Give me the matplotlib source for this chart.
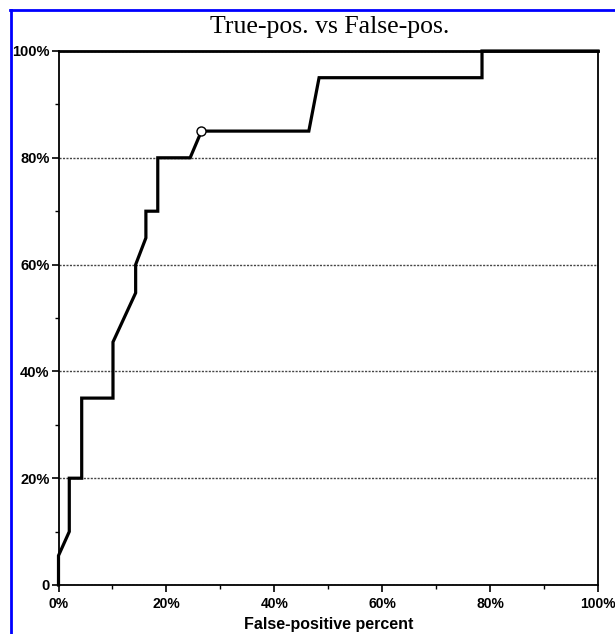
import matplotlib
matplotlib.use("Agg")
import matplotlib.pyplot as plt
from matplotlib.lines import Line2D

# Data (percent)
false_pos = [0, 0, 2, 2, 4.3, 4.3, 10.1, 10.1, 14.3, 14.3, 16.2, 16.2, 18.4, 18.4,
             24.4, 26.5, 46.4, 48.3, 78.5, 78.5, 100]
true_pos = [0, 5.5, 10, 20, 20, 35, 35, 45.5, 54.7, 60, 65, 70, 70, 80,
            80, 85, 85, 95, 95, 100, 100]
marker_index = [15]

x_ticks = [0, 20, 40, 60, 80, 100]
x_ticklabels = ["0%", "20%", "40%", "60%", "80%", "100%"]
y_ticks = [0, 20, 40, 60, 80, 100]
y_ticklabels = ["0", "20%", "40%", "60%", "80%", "100%"]

title_text = "True-pos. vs False-pos."
xlabel_text = "False-positive percent"

W, H = 615, 634
fig = plt.figure(figsize=(W / 100, H / 100), dpi=100)
fig.patch.set_facecolor("white")

left, right, top, bottom = 58.5, 598, 51, 585
ax = fig.add_axes([left / W, 1 - bottom / H, (right - left) / W, (bottom - top) / H])

ax.plot(false_pos, true_pos, color="black", lw=2.3, solid_joinstyle="miter",
        marker="o", markevery=marker_index, markersize=6.5,
        markerfacecolor="white", markeredgecolor="black", markeredgewidth=1.0,
        zorder=3, clip_on=False)

ax.set_xlim(0, 100)
ax.set_ylim(0, 100)
ax.set_xticks(x_ticks)
ax.set_xticklabels(x_ticklabels)
ax.set_yticks(y_ticks)
ax.set_yticklabels(y_ticklabels)
ax.set_xticks(range(0, 101, 10), minor=True)
ax.set_yticks(range(0, 101, 10), minor=True)

fam = ["Liberation Sans Narrow", "Liberation Sans", "DejaVu Sans"]
for lab in ax.get_xticklabels():
    lab.set_fontfamily(fam)
    lab.set_fontweight("bold")
    lab.set_fontsize(10)
for lab in ax.get_yticklabels():
    lab.set_fontfamily(fam)
    lab.set_fontweight("bold")
    lab.set_fontsize(10.5)

ax.tick_params(axis="x", which="major", direction="out", length=5, width=1.2,
               color="black", pad=4)
ax.tick_params(axis="y", which="major", direction="out", length=5, width=1.2,
               color="black", pad=1.5)
ax.tick_params(axis="both", which="minor", direction="out", length=3, width=1.0,
               color="black")

ax.yaxis.grid(True, which="major", linestyle=(0, (1.5, 1.0)), color="#444444", lw=1.0)
ax.xaxis.grid(False)
ax.set_axisbelow(True)

for sp in ax.spines.values():
    sp.set_color("black")
    sp.set_linewidth(1.3)
ax.spines["top"].set_linewidth(2.0)

ax.set_xlabel(xlabel_text, fontfamily=["Liberation Sans", "DejaVu Sans"],
              fontweight="bold", fontsize=11.5, labelpad=4)

fig.text(330 / W, 1 - 27 / H, title_text, ha="center", va="center",
         fontfamily=["Liberation Serif", "DejaVu Serif"], fontsize=18.5)

# blue frame (top and left)
fig.add_artist(Line2D([10.5 / W, 10.5 / W], [0, 1 - 10 / H], transform=fig.transFigure,
                      color="#0000ff", lw=2))
fig.add_artist(Line2D([10 / W, 1], [1 - 10 / H, 1 - 10 / H], transform=fig.transFigure,
                      color="#0000ff", lw=2))

fig.savefig("out.png", dpi=100, facecolor="white")
